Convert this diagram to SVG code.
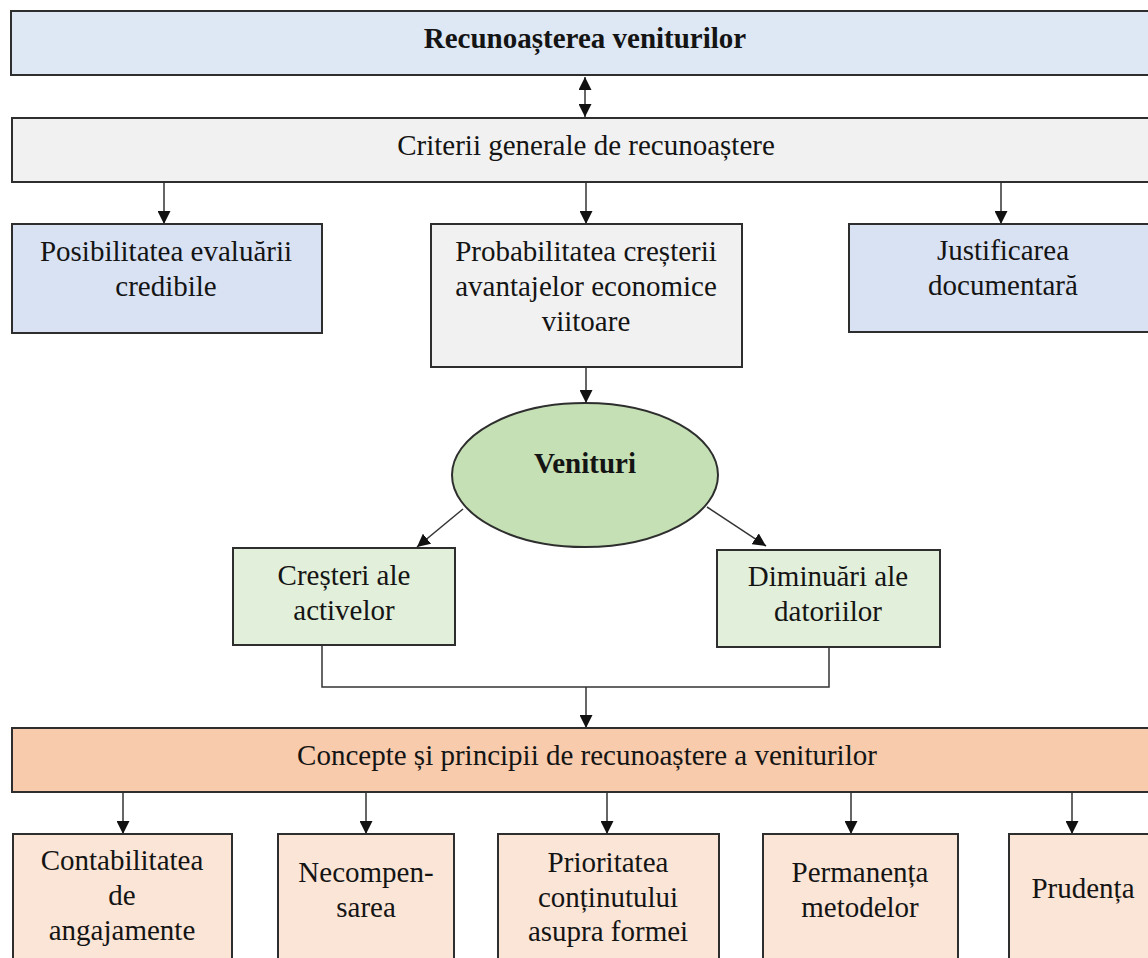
<svg xmlns="http://www.w3.org/2000/svg" width="1148" height="958" viewBox="0 0 1148 958">
  <style>
    .box { stroke: #2e2e2e; stroke-width: 2; }
    .t { font-family: "Liberation Serif", "Times New Roman", serif; font-size: 29px; fill: #141414; text-anchor: middle; }
    .b { font-weight: bold; }
    .wire { fill: none; stroke: #333; stroke-width: 1.5; }
    .blue { fill: #dde8f4; }
    .grey { fill: #f1f1f1; }
    .lblue { fill: #d9e2f3; }
    .green { fill: #c5e0b4; }
    .lgreen { fill: #e2efda; }
    .orange { fill: #f8cbad; }
    .peach { fill: #fbe5d6; }
  </style>
  <defs>
    <marker id="arrow" viewBox="0 0 10 10" refX="10" refY="5" markerWidth="8" markerHeight="8" orient="auto-start-reverse" markerUnits="userSpaceOnUse">
      <path d="M0,0 L10,5 L0,10 Z" fill="#111"/>
    </marker>
    <marker id="head" viewBox="0 0 12 12" refX="12" refY="6" markerWidth="13" markerHeight="13" orient="auto-start-reverse" markerUnits="userSpaceOnUse">
      <path d="M0,0 L12,6 L0,12 Z" fill="#111"/>
    </marker>
  </defs>

  <rect width="1148" height="958" fill="#ffffff"/>

  <!-- connectors -->
  <g id="connectors" class="wire" marker-end="url(#head)">
    <line x1="585" y1="77" x2="585" y2="117" marker-start="url(#head)"/>
    <line x1="164" y1="182" x2="164" y2="224"/>
    <line x1="586" y1="182" x2="586" y2="224"/>
    <line x1="1001" y1="182" x2="1001" y2="224"/>
    <line x1="586" y1="367" x2="586" y2="403"/>
    <line x1="463" y1="509" x2="417" y2="547"/>
    <line x1="707" y1="507" x2="766" y2="546"/>
    <polyline points="322,645 322,687 829,687 829,647" marker-end="none"/>
    <line x1="586" y1="687" x2="586" y2="728"/>
    <line x1="123" y1="792" x2="123" y2="834"/>
    <line x1="366" y1="792" x2="366" y2="834"/>
    <line x1="607" y1="792" x2="607" y2="834"/>
    <line x1="851" y1="792" x2="851" y2="834"/>
    <line x1="1072" y1="792" x2="1072" y2="834"/>
  </g>

  <g id="recunoasterea">
    <rect class="box blue" x="11" y="11" width="1150" height="64"/>
    <text class="t b" x="585" y="48">Recunoașterea veniturilor</text>
  </g>

  <g id="criterii">
    <rect class="box grey" x="12" y="118" width="1150" height="64"/>
    <text class="t" x="586" y="155">Criterii generale de recunoaștere</text>
  </g>

  <g id="posibilitatea">
    <rect class="box lblue" x="12" y="224" width="310" height="109"/>
    <text class="t" x="166" y="261">Posibilitatea evaluării</text>
    <text class="t" x="166" y="296">credibile</text>
  </g>

  <g id="probabilitatea">
    <rect class="box grey" x="431" y="224" width="311" height="143"/>
    <text class="t" x="586" y="261">Probabilitatea creșterii</text>
    <text class="t" x="586" y="296">avantajelor economice</text>
    <text class="t" x="586" y="331">viitoare</text>
  </g>

  <g id="justificarea">
    <rect class="box lblue" x="849" y="224" width="310" height="108"/>
    <text class="t" x="1003" y="260">Justificarea</text>
    <text class="t" x="1003" y="295">documentară</text>
  </g>

  <g id="venituri">
    <ellipse class="box green" cx="585" cy="475" rx="133" ry="72"/>
    <text class="t b" x="585" y="473">Venituri</text>
  </g>

  <g id="cresteri">
    <rect class="box lgreen" x="233" y="548" width="222" height="97"/>
    <text class="t" x="344" y="585">Creșteri ale</text>
    <text class="t" x="344" y="620">activelor</text>
  </g>

  <g id="diminuari">
    <rect class="box lgreen" x="717" y="550" width="223" height="97"/>
    <text class="t" x="828" y="586">Diminuări ale</text>
    <text class="t" x="828" y="621">datoriilor</text>
  </g>

  <g id="concepte">
    <rect class="box orange" x="12" y="728" width="1150" height="64"/>
    <text class="t" x="587" y="765">Concepte și principii de recunoaștere a veniturilor</text>
  </g>

  <g id="contabilitatea">
    <rect class="box peach" x="13" y="834" width="219" height="140"/>
    <text class="t" x="122" y="870">Contabilitatea</text>
    <text class="t" x="122" y="905">de</text>
    <text class="t" x="122" y="940">angajamente</text>
  </g>

  <g id="necompensarea">
    <rect class="box peach" x="278" y="834" width="176" height="140"/>
    <text class="t" x="366" y="882">Necompen-</text>
    <text class="t" x="366" y="917">sarea</text>
  </g>

  <g id="prioritatea">
    <rect class="box peach" x="498" y="834" width="221" height="140"/>
    <text class="t" x="608" y="872">Prioritatea</text>
    <text class="t" x="608" y="907">conținutului</text>
    <text class="t" x="608" y="941">asupra formei</text>
  </g>

  <g id="permanenta">
    <rect class="box peach" x="763" y="834" width="195" height="140"/>
    <text class="t" x="860" y="882">Permanența</text>
    <text class="t" x="860" y="917">metodelor</text>
  </g>

  <g id="prudenta">
    <rect class="box peach" x="1009" y="834" width="150" height="140"/>
    <text class="t" x="1083" y="898">Prudența</text>
  </g>
</svg>
